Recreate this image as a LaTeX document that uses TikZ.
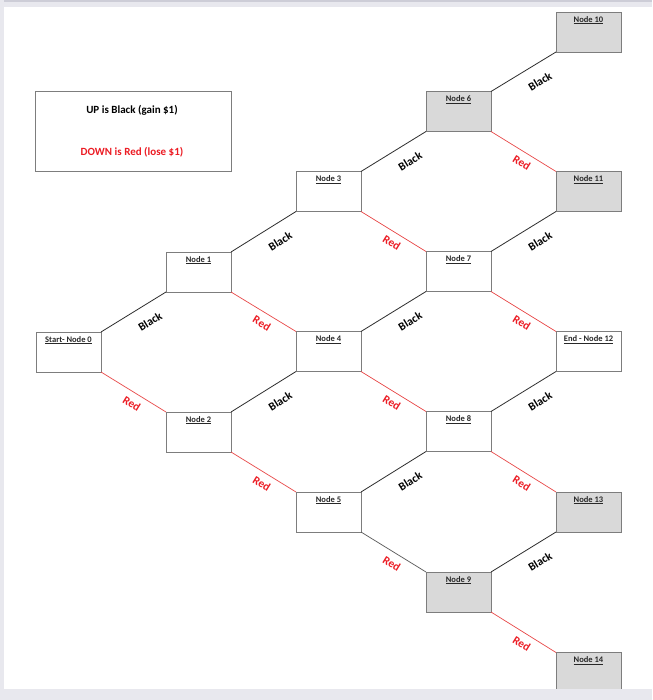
\documentclass[tikz,border=0pt]{standalone}
\usepackage{fontspec}
\setmainfont{Carlito}
\definecolor{pagebg}{RGB}{232,232,238}
\definecolor{pagetop}{RGB}{205,205,215}
\definecolor{boxline}{RGB}{125,125,125}
\definecolor{boxgray}{RGB}{217,217,217}
\definecolor{redline}{RGB}{232,72,72}
\definecolor{redtext}{RGB}{236,28,36}
\definecolor{blkline}{RGB}{45,45,45}
\definecolor{nodetext}{RGB}{40,40,40}
\tikzset{
  nbox/.style={draw=boxline, line width=0.9pt, fill=white, rectangle,
    minimum width=65pt, minimum height=40pt, inner sep=0pt, outer sep=0pt},
  gbox/.style={nbox, fill=boxgray},
  nlbl/.style={anchor=north, inner sep=0pt, yshift=-4pt,
    font=\fontsize{8.5}{10}\selectfont\bfseries, text=nodetext},
  upedge/.style={draw=blkline, line width=0.8pt},
  downedge/.style={draw=redline, line width=0.7pt},
  grayedge/.style={draw=blkline!80, line width=0.7pt},
  blklbl/.style={pos=0.62, sloped, below=12.3pt, inner sep=0pt,
    font=\fontsize{11.5}{13}\selectfont\bfseries, text=black},
  redlbl/.style={pos=0.56, sloped, below=6.3pt, inner sep=0pt,
    font=\fontsize{11.5}{13}\selectfont\bfseries, text=redtext},
  legtext/.style={font=\fontsize{11}{12}\selectfont\bfseries, inner sep=0pt}
}
\newcommand{\nl}[1]{\underline{#1}}
\begin{document}
\begin{tikzpicture}[x=1pt, y=-1pt]
\useasboundingbox (0,0) rectangle (652,700);
\fill[pagebg] (0,0) rectangle (652,700);
\fill[white] (4,7) rectangle (652,689);
\fill[pagetop] (0,0) rectangle (652,2.5);

% legend
\node[draw=boxline, line width=0.8pt, minimum width=196pt, minimum height=80pt,
  inner sep=0pt, outer sep=0pt] (legend) at (133,131) {};
\node[legtext, text=black] (legup) at (132,110) {UP is Black (gain \$1)};
\node[legtext, text=redtext] (legdown) at (132,152) {DOWN is Red (lose \$1)};

% nodes
\node[nbox, label={[nlbl]north:\nl{Start- Node 0}}] (n0) at (68.5,352) {};
\node[nbox, label={[nlbl]north:\nl{Node 1}}] (n1) at (198.5,272) {};
\node[nbox, label={[nlbl]north:\nl{Node 2}}] (n2) at (198.5,432) {};
\node[nbox, label={[nlbl]north:\nl{Node 3}}] (n3) at (328.5,191.5) {};
\node[nbox, label={[nlbl]north:\nl{Node 4}}] (n4) at (328.5,351.5) {};
\node[nbox, label={[nlbl]north:\nl{Node 5}}] (n5) at (328.5,512) {};
\node[gbox, label={[nlbl]north:\nl{Node 6}}] (n6) at (458.5,111.5) {};
\node[nbox, label={[nlbl]north:\nl{Node 7}}] (n7) at (458.5,271.5) {};
\node[nbox, label={[nlbl]north:\nl{Node 8}}] (n8) at (458.5,431.5) {};
\node[gbox, label={[nlbl]north:\nl{Node 9}}] (n9) at (458.5,592) {};
\node[gbox, label={[nlbl]north:\nl{Node 10}}] (n10) at (588.5,32) {};
\node[gbox, label={[nlbl]north:\nl{Node 11}}] (n11) at (588.5,191.5) {};
\node[nbox, label={[nlbl]north:\nl{End - Node 12}}] (n12) at (588.5,351.5) {};
\node[gbox, label={[nlbl]north:\nl{Node 13}}] (n13) at (588.5,512) {};
\node[gbox, label={[nlbl]north:\nl{Node 14}}] (n14) at (588.5,672.5) {};

% up edges (Black)
\foreach \a/\b in {n0/n1, n1/n3, n2/n4, n3/n6, n4/n7, n5/n8, n6/n10, n7/n11, n8/n12, n9/n13}
  \path[upedge] (\a.north east) -- node[blklbl] {Black} (\b.south west);

% down edges (Red)
\foreach \a/\b in {n0/n2, n1/n4, n2/n5, n3/n7, n4/n8, n6/n11, n7/n12, n8/n13, n9/n14}
  \path[downedge] (\a.south east) -- node[redlbl] {Red} (\b.north west);
\path[grayedge] (n5.south east) -- node[redlbl] {Red} (n9.north west);

% bottom margin of the sheet
\fill[pagebg] (0,689) rectangle (652,700);
\fill[pagebg] (0,0) rectangle (4,700);
\end{tikzpicture}
\end{document}
